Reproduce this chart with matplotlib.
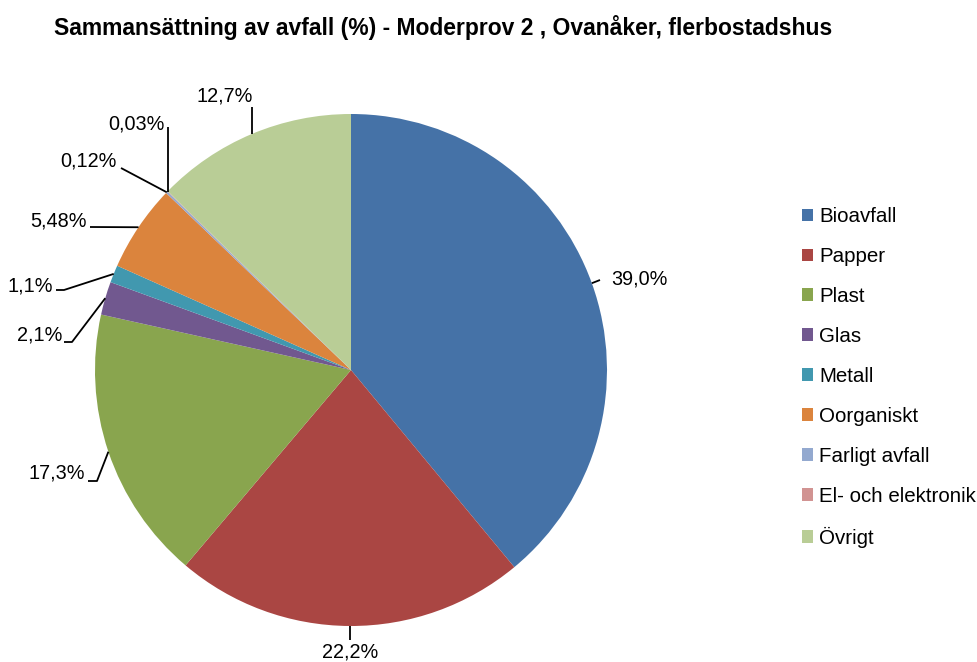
import matplotlib
matplotlib.use("Agg")
import matplotlib.pyplot as plt
import numpy as np

plt.rcParams['font.family'] = ['Liberation Sans', 'DejaVu Sans']

categories = ["Bioavfall", "Papper", "Plast", "Glas", "Metall", "Oorganiskt",
              "Farligt avfall", "El- och elektronik", "Övrigt"]
values = [39.0, 22.2, 17.3, 2.1, 1.1, 5.48, 0.12, 0.03, 12.7]
value_labels = ["39,0%", "22,2%", "17,3%", "2,1%", "1,1%", "5,48%", "0,12%", "0,03%", "12,7%"]
colors = ["#4572A7", "#AA4643", "#89A54E", "#71588F", "#4198AF", "#DB843D",
          "#93A9CF", "#D19392", "#B9CD96"]
title = "Sammansättning av avfall (%) - Moderprov 2 , Ovanåker, flerbostadshus"

W, H = 977, 662
fig = plt.figure(figsize=(W / 100, H / 100), dpi=100)
ax = fig.add_axes([0, 0, 1, 1])

cx, cy, R = 351, H - 370, 256
wedges, _ = ax.pie(values, colors=colors, startangle=90, counterclock=False,
                   center=(cx, cy), radius=R, frame=True,
                   wedgeprops=dict(linewidth=0))
ax.set_xlim(0, W)
ax.set_ylim(0, H)
ax.axis('off')

layout = {
    0: dict(tx=611, ty=279, ha='left', path=[(600, 280)]),
    1: dict(tx=350, ty=652, ha='center', path=[(None, 640)]),
    2: dict(tx=85, ty=473, ha='right', path=[(97, 481), (88, 481)]),
    3: dict(tx=62, ty=335, ha='right', path=[(72, 342), (64, 342)]),
    4: dict(tx=53, ty=286, ha='right', path=[(64, 290), (56, 290)]),
    5: dict(tx=87, ty=221, ha='right', path=[(90, 227)]),
    6: dict(tx=117, ty=161, ha='right', path=[(121, 168)]),
    7: dict(tx=165, ty=124, ha='right', path=[(168, 127)]),
    8: dict(tx=225, ty=96, ha='center', path=[(252, 107)]),
}

for i, w in enumerate(wedges):
    ang = np.deg2rad((w.theta1 + w.theta2) / 2)
    ax_ = cx + R * np.cos(ang)
    ay_ = cy + R * np.sin(ang)
    L = layout[i]
    xs, ys = [ax_], [ay_]
    for (px, py) in L['path']:
        xs.append(ax_ if px is None else px)
        ys.append(H - py)
    if i == 7:
        xs = [168, 168]
        ys = [H - 192, H - 127]
    if i == 8:
        xs = [ax_, ax_]
    ax.plot(xs, ys, color='black', lw=1.3, solid_capstyle='butt')
    ax.text(L['tx'], H - L['ty'], value_labels[i], ha=L['ha'], va='center', fontsize=14.3)

ax.text(443, H - 27, title, ha='center', va='center', fontsize=16.5, fontweight='bold')

leg = ax.legend(wedges, categories, loc='upper left', bbox_to_anchor=(802 / W, 1 - 207 / H),
                frameon=False, fontsize=14.8, handlelength=0.55, handleheight=0.55,
                handletextpad=0.3, labelspacing=1.02, borderaxespad=0, borderpad=0)

fig.savefig("out.png", dpi=100)
